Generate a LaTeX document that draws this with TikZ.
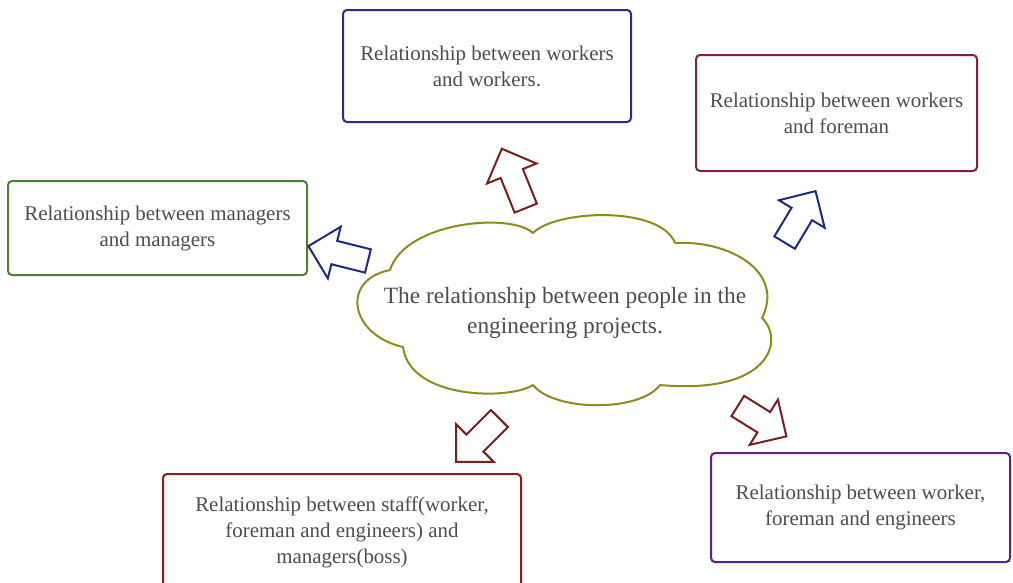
\documentclass[tikz,border=0pt]{standalone}
\usepackage{fontspec}
\setmainfont{Liberation Serif}
\usetikzlibrary{shapes.arrows}
\definecolor{boxblue}{HTML}{2B2B8A}
\definecolor{boxplum}{HTML}{7F1F4F}
\definecolor{boxgreen}{HTML}{4F7F2F}
\definecolor{boxred}{HTML}{8B1F1F}
\definecolor{boxpurple}{HTML}{5B1F8F}
\definecolor{cloudolive}{HTML}{8C8C1A}
\definecolor{arrowblue}{HTML}{1F2A80}
\definecolor{arrowred}{HTML}{7A1F1F}
\definecolor{textgray}{HTML}{4D4D4D}
\begin{document}
\begin{tikzpicture}[x=0.75pt, y=-0.75pt,
		relbox/.style={draw, line width=1.5pt, rounded corners=3pt, fill=white, align=center,
			text=textgray, font=\fontsize{15.7}{19.5}\selectfont, inner sep=0pt},
		blockarrow/.style={single arrow, draw, line width=1.5pt, fill=white, inner sep=8.25pt,
			single arrow head extend=11pt, minimum height=47pt, anchor=center}]
		% поле рисунка
		\useasboundingbox ( 0, 0 ) rectangle ( 1013, 582 );
		\fill [white] ( 0, 0 ) rectangle ( 1013, 582 );

		% облако в центре
		\draw [cloudolive, line width=1.5pt, line join=round]
			( 390, 270 ) .. controls ( 405, 222 ) and ( 510, 212 ) .. ( 533, 233 )
			.. controls ( 555, 210 ) and ( 660, 205 ) .. ( 675, 243 )
			.. controls ( 730, 240 ) and ( 785, 272 ) .. ( 762, 318 )
			.. controls ( 785, 340 ) and ( 770, 395 ) .. ( 660, 385 )
			.. controls ( 640, 412 ) and ( 555, 412 ) .. ( 533, 385 )
			.. controls ( 510, 400 ) and ( 410, 400 ) .. ( 403, 347 )
			.. controls ( 350, 335 ) and ( 340, 280 ) .. cycle;
		\node [align=center, text=textgray, font=\fontsize{17.5}{22.5}\selectfont] (people) at ( 565, 313 )
			{The relationship between people in the\\engineering projects.};

		% рамки отношений
		\node [relbox, draw=boxblue, minimum width=216pt, minimum height=84pt] (ww) at ( 487, 66 )
			{Relationship between workers\\and workers.};
		\node [relbox, draw=boxplum, minimum width=210.75pt, minimum height=87pt] (wf) at ( 836.5, 113 )
			{Relationship between workers\\and foreman};
		\node [relbox, draw=boxgreen, minimum width=224.25pt, minimum height=70.5pt] (mm) at ( 157.5, 228 )
			{Relationship between managers\\and managers};
		\node [relbox, draw=boxred, minimum width=268.5pt, minimum height=87pt] (sm) at ( 342, 532 )
			{Relationship between staff(worker,\\foreman and engineers) and\\managers(boss)};
		\node [relbox, draw=boxpurple, minimum width=224.25pt, minimum height=81.75pt] (wfe) at ( 860.5, 507.5 )
			{Relationship between worker,\\foreman and engineers};

		% стрелки от облака
		\node [blockarrow, draw=arrowred, rotate=112, minimum height=48pt] (toww) at ( 516, 184 ) {};
		\node [blockarrow, draw=arrowblue, rotate=166, minimum height=46pt] (tomm) at ( 344, 255 ) {};
		\node [blockarrow, draw=arrowblue, rotate=59, minimum height=45pt] (towf) at ( 797, 222 ) {};
		\node [blockarrow, draw=arrowred, rotate=225, minimum height=46pt] (tosm) at ( 482, 436 ) {};
		\node [blockarrow, draw=arrowred, rotate=-32, minimum height=43pt] (towfe) at ( 757, 418 ) {};
	\end{tikzpicture}
\end{document}
